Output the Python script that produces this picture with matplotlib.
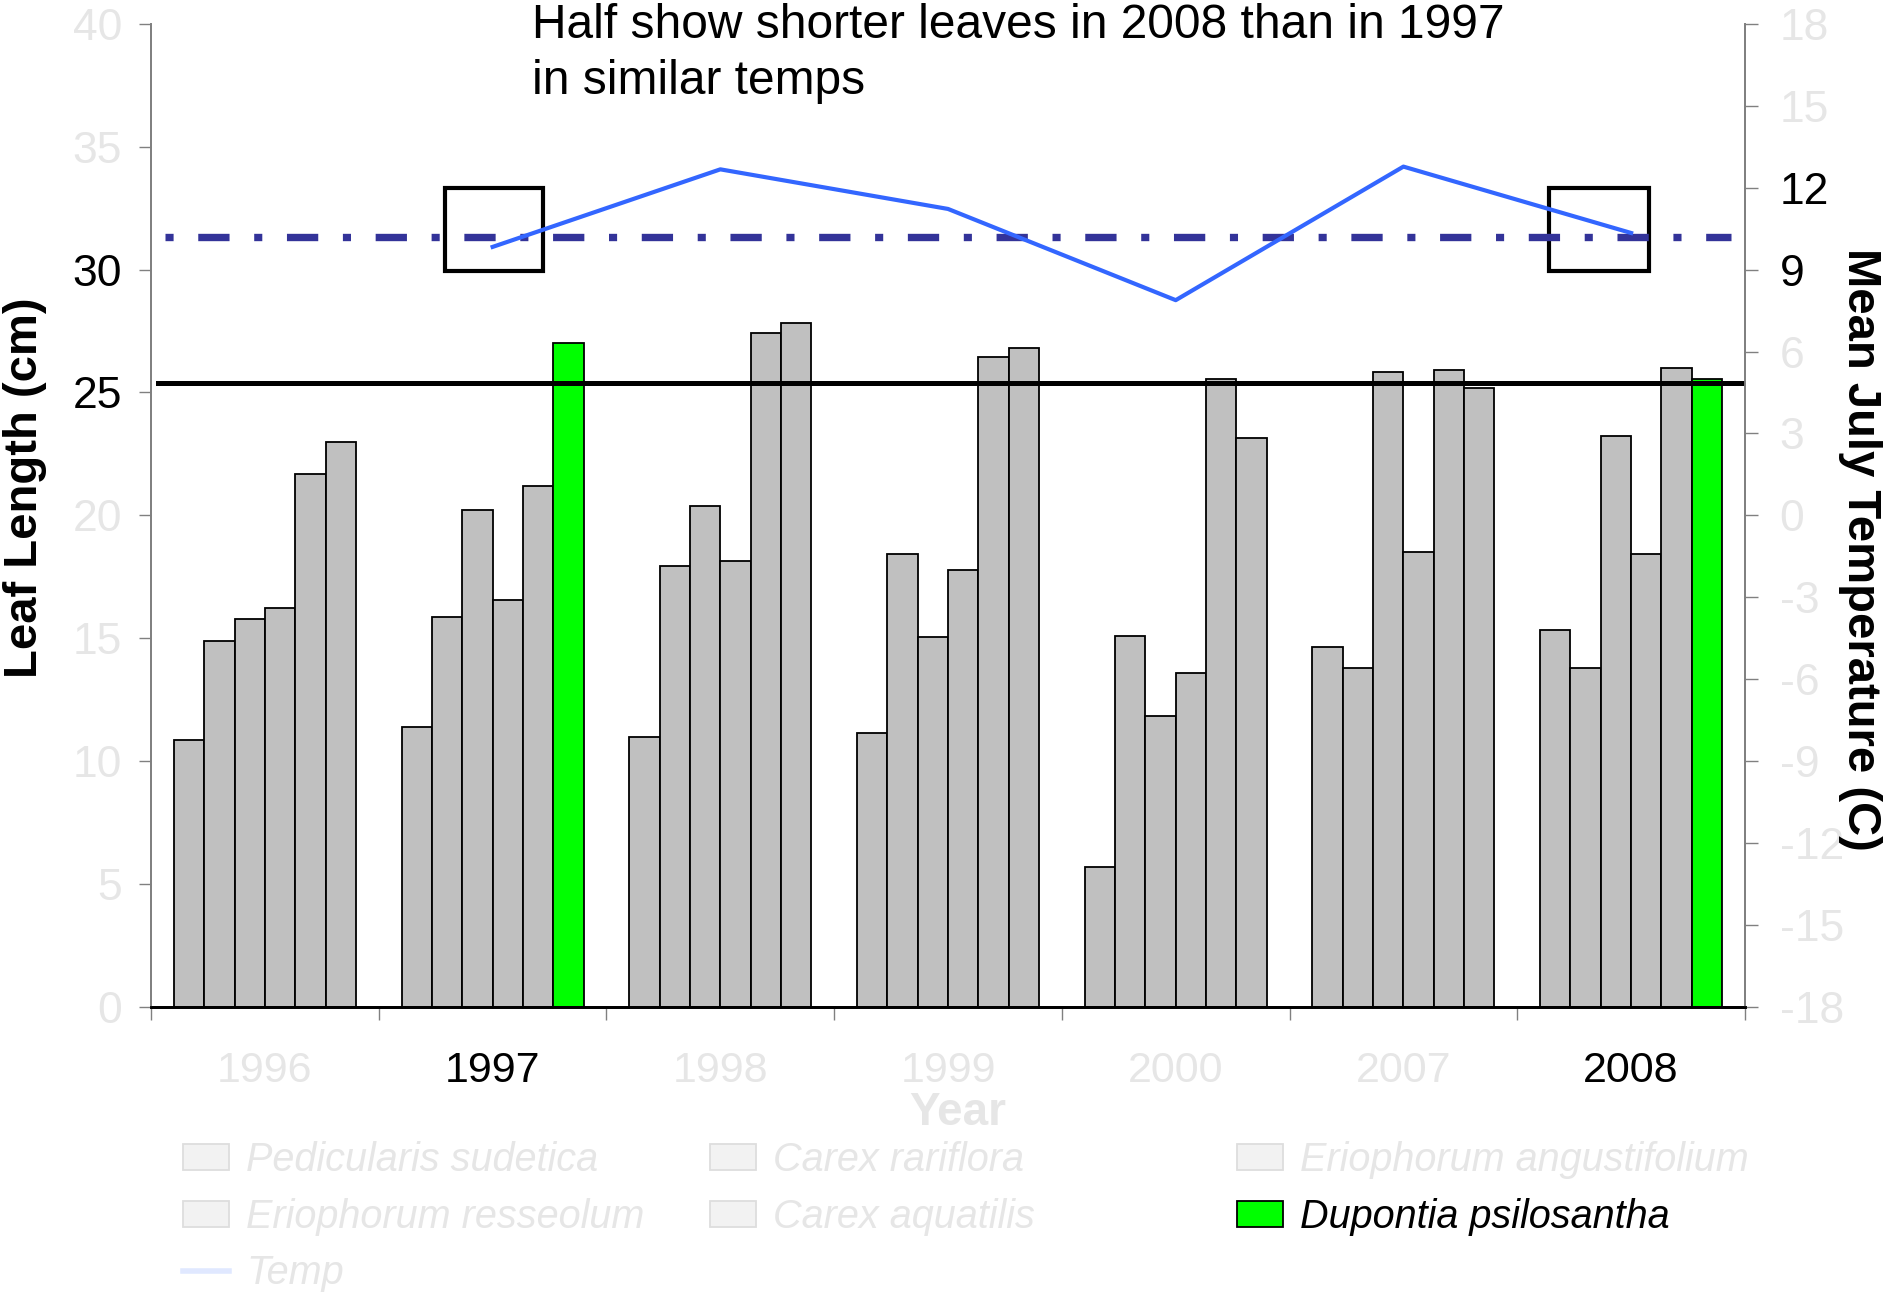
import matplotlib
matplotlib.use("Agg")
import matplotlib.pyplot as plt
import numpy as np
from matplotlib.patches import Rectangle, Patch
from matplotlib.lines import Line2D

# ---------------- data ----------------
years = ['1996', '1997', '1998', '1999', '2000', '2007', '2008']
species = ['Pedicularis sudetica', 'Carex rariflora', 'Eriophorum angustifolium',
           'Eriophorum resseolum', 'Carex aquatilis', 'Dupontia psilosantha']
pedicularis = [10.85, 11.38, 11.0, 11.16, 5.68, 14.64, 15.33]
carex_rariflora = [14.9, 15.88, 17.94, 18.41, 15.1, 13.8, 13.8]
erio_angust = [15.8, 20.22, 20.37, 15.05, 11.83, 25.84, 23.21]
erio_ress = [16.25, 16.56, 18.15, 17.78, 13.58, 18.5, 18.44]
carex_aquatilis = [21.67, 21.2, 27.43, 26.45, 25.53, 25.92, 25.99]
dupontia = [22.97, 27.02, 27.82, 26.8, 23.15, 25.17, 25.53]
temp = [np.nan, 9.83, 12.67, 11.22, 7.88, 12.77, 10.34]
mean_temp = 10.2
ref_leaf = 25.4
highlight_years = ['1997', '2008']
left_ticks = [0, 5, 10, 15, 20, 25, 30, 35, 40]
left_dark = [25, 30]
right_ticks = [-18, -15, -12, -9, -6, -3, 0, 3, 6, 9, 12, 15, 18]
right_dark = [9, 12]
title = 'Half show shorter leaves in 2008 than in 1997\nin similar temps'

series = [pedicularis, carex_rariflora, erio_angust, erio_ress, carex_aquatilis, dupontia]

GRAY = '#C0C0C0'
GREEN = '#00FF00'
LIGHT = '#E6E6E6'
TEMP_C = '#3366FF'
MEAN_C = '#333399'
SANS = ['Liberation Sans', 'DejaVu Sans']

plt.rcParams['font.family'] = SANS
plt.rcParams['axes.unicode_minus'] = False

fig = plt.figure(figsize=(18.84, 12.92), dpi=100)
ax = fig.add_axes([0.0802, 0.2206, 0.846, 0.761])
ax2 = ax.twinx()

x = np.arange(len(years))
nser = len(series)
w = 0.8 / nser
for j, vals in enumerate(series):
    if j == nser - 1:
        colors = [GREEN if y in highlight_years else GRAY for y in years]
    else:
        colors = GRAY
    ax.bar(x + (j - (nser - 1) / 2) * w, vals, width=w, color=colors,
           edgecolor='black', linewidth=1.3, zorder=2)

ax.set_xlim(-0.5, len(years) - 0.5)
ax.set_ylim(0, 40)
ax2.set_ylim(-18, 18)

# reference line for leaf length
ax.plot([-0.47, 6.495], [ref_leaf, ref_leaf], color='black', lw=3.6, zorder=3)

# temperature
ax2.plot(x, temp, color=TEMP_C, lw=3.0, zorder=4)
mean_line, = ax2.plot([-0.44, 6.44], [mean_temp, mean_temp], color=MEAN_C, lw=5.3, zorder=3)
mean_line.set_dashes((1.1, 3.35, 4.25, 3.35))
mean_line.set_dash_capstyle('butt')

# highlight boxes
for x0, x1 in [(0.79, 1.22), (5.64, 6.077)]:
    ax.add_patch(Rectangle((x0, 29.95), x1 - x0, 33.3 - 29.95, fill=False,
                           edgecolor='black', lw=3.0, zorder=5))

# spines
ax.spines['top'].set_visible(False)
ax2.spines['top'].set_visible(False)
for a in (ax, ax2):
    a.spines['left'].set_color('#808080')
    a.spines['right'].set_color('#808080')
    a.spines['left'].set_linewidth(1.3)
    a.spines['right'].set_linewidth(1.3)
    a.spines['bottom'].set_color('black')
    a.spines['bottom'].set_linewidth(2.0)

# x ticks
ax.set_xticks(np.arange(-0.5, len(years)), labels=[''] * (len(years) + 1))
ax.set_xticks(x, labels=years, minor=True)
ax.tick_params(axis='x', which='major', direction='out', length=9.5, width=1.0, color='#808080')
ax.tick_params(axis='x', which='minor', length=0, pad=32, labelsize=31)
for lab, y in zip(ax.get_xticklabels(minor=True), years):
    lab.set_color('black' if y in highlight_years else LIGHT)

# y ticks
ax.set_yticks(left_ticks)
ax.tick_params(axis='y', direction='out', length=9, width=1.0, color='#808080', pad=12, labelsize=32)
for lab, v in zip(ax.get_yticklabels(), left_ticks):
    lab.set_color('black' if v in left_dark else LIGHT)
ax2.set_yticks(right_ticks)
ax2.tick_params(axis='y', direction='out', length=9, width=1.0, color='#808080', pad=16, labelsize=32)
for lab, v in zip(ax2.get_yticklabels(), right_ticks):
    lab.set_color('black' if v in right_dark else LIGHT)

# labels
ax.set_ylabel('Leaf Length (cm)', fontsize=34, fontweight='bold', va='center')
ax.yaxis.set_label_coords(-0.079, 0.528)
ax2.set_ylabel('Mean July Temperature (C)', fontsize=34, fontweight='bold', rotation=270, va='center')
ax2.yaxis.set_label_coords(1.072, 0.465)
ax.set_xlabel('Year', fontsize=33, fontweight='bold', color=LIGHT, va='center')
ax.xaxis.set_label_coords(0.506, -0.108)

fig.text(0.2824, 0.998, title, fontsize=34.5, va='top', ha='left', linespacing=1.32)

# legends
def sp_patch(color, edge):
    return Patch(facecolor=color, edgecolor=edge, linewidth=1.3)

light_patch = dict(color='#F2F2F2', edge='#DDDDDD')
col1 = [(sp_patch(**light_patch), species[0]), (sp_patch(**light_patch), species[3]),
        (Line2D([], [], color='#E0E8FF', lw=4), 'Temp')]
col2 = [(sp_patch(**light_patch), species[1]), (sp_patch(**light_patch), species[4])]
col3 = [(sp_patch(**light_patch), species[2]), (sp_patch(GREEN, 'black'), species[5])]

for items, xpos, dark_last in [(col1, 183 / 1884, False), (col2, 710 / 1884, False), (col3, 1237 / 1884, True)]:
    leg = fig.legend([h for h, _ in items], [l for _, l in items], loc='upper left',
                     bbox_to_anchor=(xpos, 1 - 1141 / 1292), frameon=False,
                     prop=dict(style='italic', size=28.5),
                     borderpad=0, borderaxespad=0, handlelength=1.16, handleheight=0.63,
                     handletextpad=0.43, labelspacing=0.47)
    for i, t in enumerate(leg.get_texts()):
        t.set_color('black' if (dark_last and i == len(items) - 1) else LIGHT)

fig.savefig('out.png', dpi=100)
